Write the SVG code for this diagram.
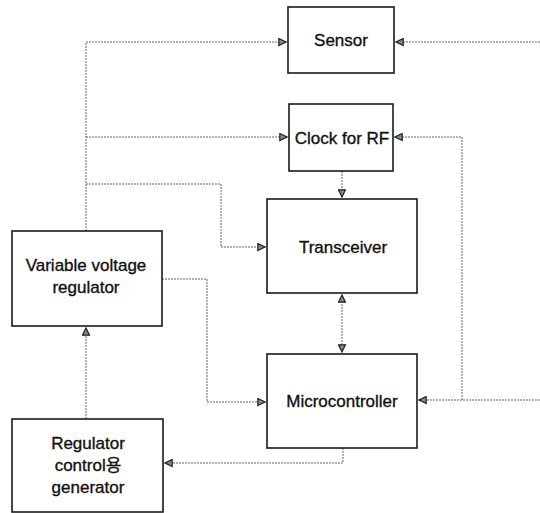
<svg xmlns="http://www.w3.org/2000/svg" width="540" height="513" viewBox="0 0 540 513">
<style>
.box{fill:#fff;stroke:#1a1a1a;stroke-width:1.6}
.lbl{font-family:"Liberation Sans","Noto Sans CJK KR",Arial,sans-serif;font-size:17px;fill:#111;stroke:#111;stroke-width:0.35;text-anchor:middle}
.con{fill:none;stroke:#666;stroke-width:1;stroke-dasharray:2 1}
</style>
<defs>
<marker id="arr" viewBox="0 0 9 9" refX="8" refY="4.5" markerWidth="9" markerHeight="9" markerUnits="userSpaceOnUse" orient="auto-start-reverse">
<path d="M0.8,1 L8,4.5 L0.8,8 Z" fill="#888" stroke="#222" stroke-width="1.2"/>
</marker>
</defs>
<rect width="540" height="513" fill="#fff"/>
<g id="connectors">
<path class="con" d="M86,231 L86,42 L286,42" marker-end="url(#arr)"/>
<path class="con" d="M86,137 L287,137" marker-end="url(#arr)"/>
<path class="con" d="M86,184 L221,184 L221,247 L265,247" marker-end="url(#arr)"/>
<path class="con" d="M540,42 L396,42" marker-end="url(#arr)"/>
<path class="con" d="M540,400 L419,400" marker-end="url(#arr)"/>
<path class="con" d="M462,400 L462,137 L395,137" marker-end="url(#arr)"/>
<path class="con" d="M342,171 L342,197" marker-end="url(#arr)"/>
<path class="con" d="M342,295 L342,352" marker-start="url(#arr)" marker-end="url(#arr)"/>
<path class="con" d="M162,279 L207,279 L207,402 L265,402" marker-end="url(#arr)"/>
<path class="con" d="M86,419 L86,328" marker-end="url(#arr)"/>
<path class="con" d="M343,448 L343,463 L165,463" marker-end="url(#arr)"/>
</g>
<g id="sensor">
<rect class="box" x="288" y="7" width="106" height="66"/>
<text class="lbl" x="341" y="46">Sensor</text>
</g>
<g id="clock">
<rect class="box" x="289" y="104" width="104" height="67"/>
<text class="lbl" x="342" y="144">Clock for RF</text>
</g>
<g id="transceiver">
<rect class="box" x="267" y="199" width="150" height="94"/>
<text class="lbl" x="343" y="253">Transceiver</text>
</g>
<g id="microcontroller">
<rect class="box" x="267" y="354" width="150" height="94"/>
<text class="lbl" x="342" y="407">Microcontroller</text>
</g>
<g id="vvr">
<rect class="box" x="12" y="231" width="150" height="95"/>
<text class="lbl" x="86" y="271">Variable voltage</text>
<text class="lbl" x="86" y="293">regulator</text>
</g>
<g id="rcg">
<rect class="box" x="12" y="419" width="151" height="93"/>
<text class="lbl" x="88" y="449">Regulator</text>
<text class="lbl" x="88" y="471">control용</text>
<text class="lbl" x="88" y="493">generator</text>
</g>
</svg>
